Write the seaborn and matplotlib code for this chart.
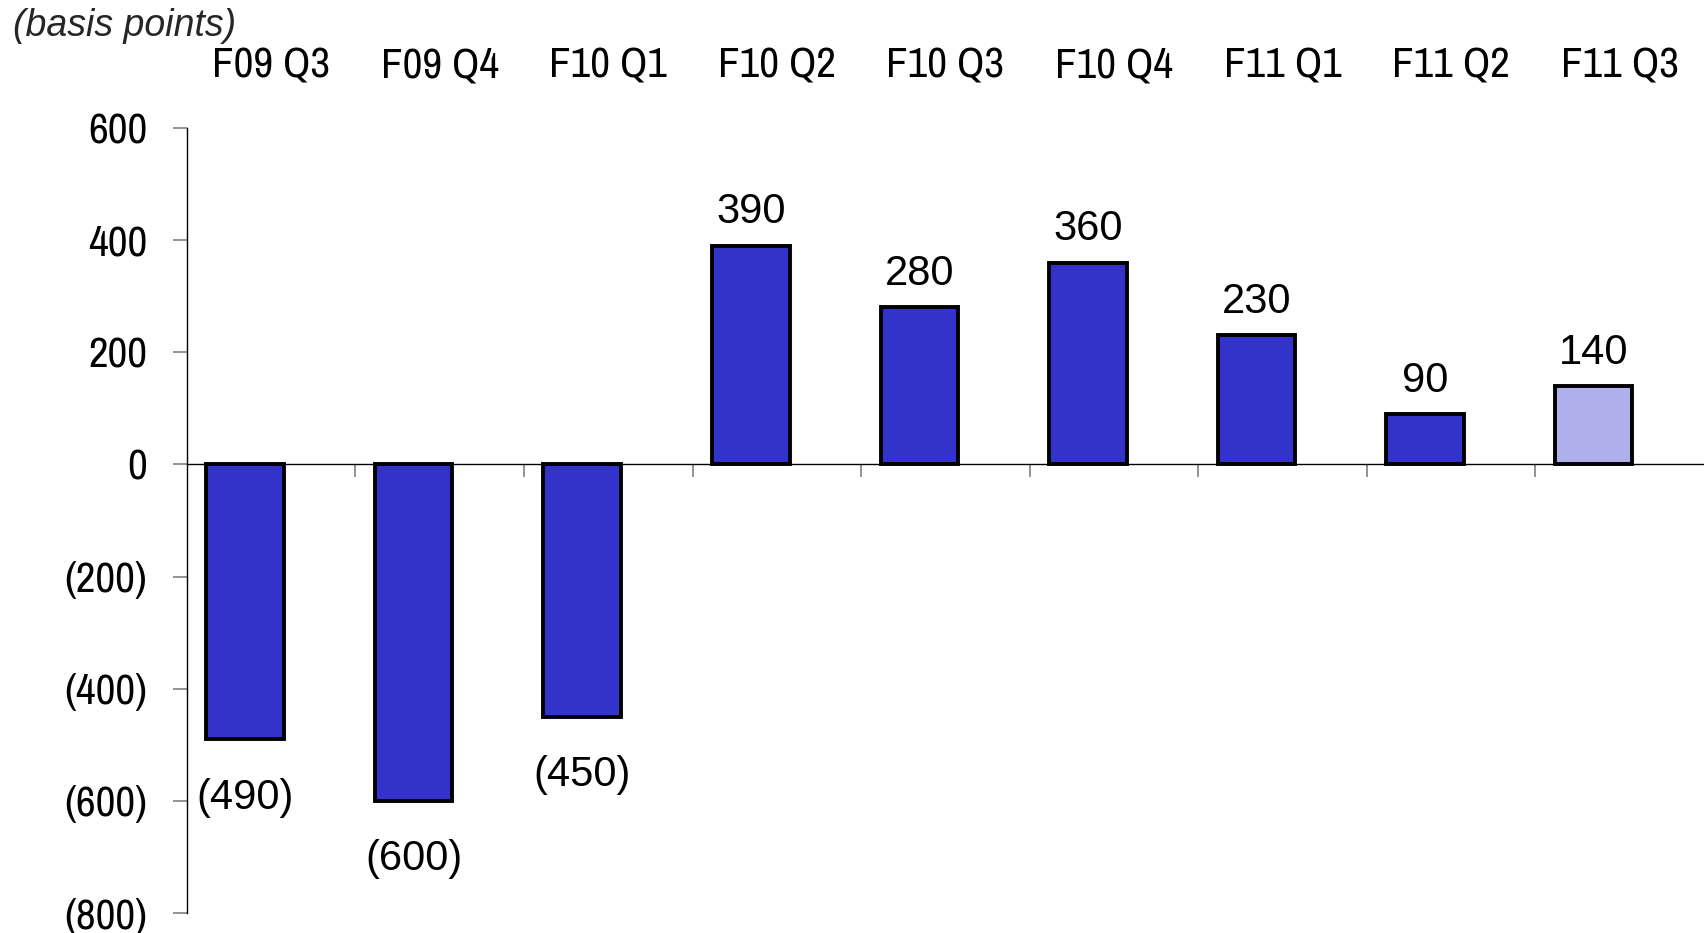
import matplotlib
matplotlib.use("Agg")
import matplotlib.pyplot as plt
import seaborn as sns
import pandas as pd
from matplotlib.ticker import FuncFormatter, FixedLocator

categories = ["F09 Q3", "F09 Q4", "F10 Q1", "F10 Q2", "F10 Q3", "F10 Q4", "F11 Q1", "F11 Q2", "F11 Q3"]
values = [-490, -600, -450, 390, 280, 360, 230, 90, 140]
bar_colors = ["#3333CC"] * 8 + ["#AFAFEB"]
y_ticks = [600, 400, 200, 0, -200, -400, -600, -800]
unit_label = "(basis points)"

sns.set_theme(style="white")
plt.rcParams['font.family'] = ['Archivo Narrow', 'DejaVu Sans']

df = pd.DataFrame({"cat": categories, "val": values})

fig = plt.figure(figsize=(17.04, 9.33), dpi=100)
ax = fig.add_axes([0.1097, 0.0214, 0.8903, 0.8414])

sns.barplot(data=df, x="cat", y="val", hue="cat", palette=bar_colors, legend=False,
            width=0.46, edgecolor="black", linewidth=2.8, saturation=1, ax=ax, zorder=3)

patches = sorted(ax.patches, key=lambda p: p.get_x())
for p in patches:
    p.set_x(p.get_x() - 0.155)

for p, v in zip(patches, values):
    cx = p.get_x() + p.get_width() / 2
    txt = f"({abs(v)})" if v < 0 else f"{v}"
    off = -42 if v < 0 else 24
    ax.annotate(txt, xy=(cx, v), xytext=(0, off), textcoords="offset points",
                ha="center", va="center", fontsize=30, family=["Liberation Sans", "DejaVu Sans"],
                color="black")

ax.set_xlim(-0.5, len(categories) - 0.5)
ax.set_ylim(-800, 600)
ax.set_xlabel("")
ax.set_ylabel("")

for s in ["top", "right"]:
    ax.spines[s].set_visible(False)
ax.spines["bottom"].set_position(("data", 0))
ax.spines["bottom"].set_color("black")
ax.spines["bottom"].set_linewidth(1.0)
ax.spines["left"].set_color("black")
ax.spines["left"].set_linewidth(1.0)
ax.spines["bottom"].set_zorder(4)

ax.set_yticks(y_ticks)
ax.yaxis.set_major_formatter(FuncFormatter(lambda v, p: f"({abs(int(v))})" if v < 0 else f"{int(v)}"))
ax.tick_params(axis="y", which="major", left=True, length=10, width=1.2, color="#808080",
               direction="out", pad=18.5, labelsize=31, labelcolor="black")

ax.set_xticks(range(len(categories)))
ax.set_xticklabels(categories)
ax.xaxis.set_minor_locator(FixedLocator([i + 0.5 for i in range(len(categories) - 1)]))
ax.tick_params(axis="x", which="major", bottom=False, top=False, labelbottom=False,
               labeltop=True, pad=25, labelsize=31, labelcolor="black")
ax.tick_params(axis="x", which="minor", bottom=True, top=False, length=9.5, width=1.2,
               color="#808080", direction="out")

fig.text(13 / 1704, 1 - 26 / 933, unit_label, ha="left", va="center", fontsize=27,
         style="italic", family=["Liberation Sans", "DejaVu Sans"])

fig.savefig("out.png", dpi=100, facecolor="white")
